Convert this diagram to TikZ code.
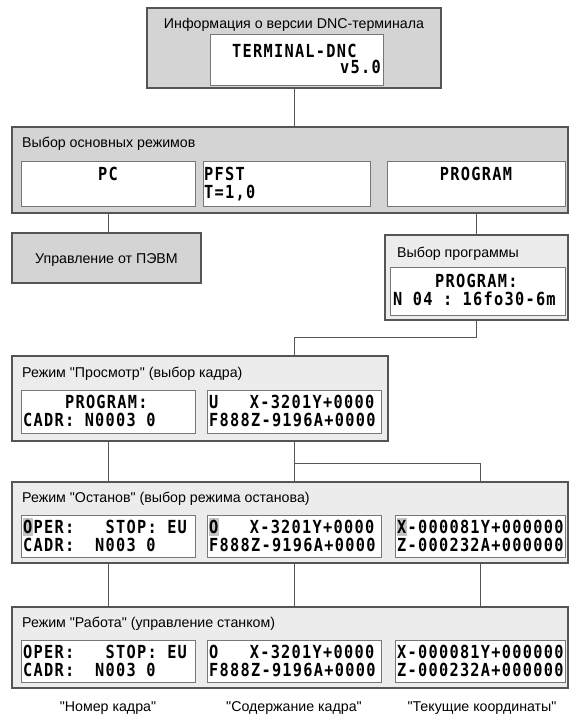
\documentclass[tikz,border=0pt]{standalone}
\usepackage{fontspec}
\setmainfont{Liberation Sans}[Ligatures=TeXOff]
\newfontfamily\lcdfont{DejaVu Sans Mono}[FakeStretch=0.85, LetterSpace=7]
\usetikzlibrary{calc}
\definecolor{darkfill}{HTML}{D4D4D4}
\definecolor{lightfill}{HTML}{ECECEC}
\definecolor{framecol}{HTML}{555555}
\definecolor{lcdframe}{HTML}{777777}
\definecolor{hlgray}{HTML}{C4C4C4}
\tikzset{
  panel/.style={draw=framecol, line width=1.2pt, anchor=north west, inner sep=0pt, outer sep=0pt},
  lcd/.style={draw=lcdframe, fill=white, line width=1pt, anchor=north west, inner sep=0pt, outer sep=0pt},
  title/.style={anchor=base west, inner sep=0pt, font=\fontsize{14.2}{16}\selectfont},
  ctitle/.style={anchor=base, inner sep=0pt, font=\fontsize{14.2}{16}\selectfont},
  lcdtxt/.style={anchor=base west, inner sep=0pt, font=\lcdfont\bfseries\fontsize{18}{20}\selectfont},
  wire/.style={draw=framecol, line width=1pt},
}
\begin{document}
\begin{tikzpicture}[x=1pt,y=-1pt]
\useasboundingbox (0,0) rectangle (569,717);
% ---------- top: version info
\node[panel, fill=darkfill, minimum width=294pt, minimum height=80pt] (top) at (147,8) {};
\node[ctitle] (toptitle) at (294,29) {Информация о версии DNC-терминала};
\node[lcd, minimum width=173pt, minimum height=50pt] (topl) at (210,35) {};
\node[lcdtxt] (t1) at (232,57) {TERMINAL-DNC};
\node[lcdtxt, anchor=base east] (t2) at (381,74) {v5.0};
% ---------- main modes
\node[panel, fill=darkfill, minimum width=556pt, minimum height=86pt] (main) at (12,127) {};
\node[title] (maintitle) at (22,147) {Выбор основных режимов};
\node[lcd, minimum width=174pt, minimum height=45pt] (pcb) at (21,161) {};
\node[lcd, minimum width=167pt, minimum height=45pt] (pfstb) at (203,161) {};
\node[lcd, minimum width=178pt, minimum height=45pt] (progb) at (387,161) {};
\node[lcdtxt, anchor=base] (pc1) at (108,180) {PC};
\node[lcdtxt] (pf1) at (204,180) {PFST};
\node[lcdtxt] (pf2) at (204,198) {T=1,0};
\node[lcdtxt, anchor=base] (pg1) at (476,180) {PROGRAM};
% ---------- PC control
\node[panel, fill=darkfill, minimum width=189pt, minimum height=50pt] (pcctl) at (12,233) {};
\node[ctitle] (pcctltxt) at (106.5,263) {Управление от ПЭВМ};
% ---------- program selection
\node[panel, fill=lightfill, minimum width=183pt, minimum height=85pt] (psel) at (385,235) {};
\node[title] (pseltitle) at (397,257) {Выбор программы};
\node[lcd, minimum width=175pt, minimum height=48pt] (pselb) at (390,267) {};
\node[lcdtxt] (ps1) at (393,287) {~~~~PROGRAM:};
\node[lcdtxt] (ps2) at (393,305) {N~04~:~16fo30-6m};
% ---------- view mode
\node[panel, fill=lightfill, minimum width=376pt, minimum height=85pt] (view) at (12,356) {};
\node[title] (viewtitle) at (22,377) {Режим "Просмотр" (выбор кадра)};
\node[lcd, minimum width=174pt, minimum height=43pt] (viewl) at (21,390) {};
\node[lcd, minimum width=174pt, minimum height=43pt] (viewr) at (207,390) {};
\node[lcdtxt] (v1) at (23,408) {~~~~PROGRAM:};
\node[lcdtxt] (v2) at (23,426) {CADR:~N0003~0};
\node[lcdtxt] (v3) at (209,408) {U~~~X-3201Y+0000};
\node[lcdtxt] (v4) at (209,426) {F888Z-9196A+0000};
% ---------- stop mode
\node[panel, fill=lightfill, minimum width=556pt, minimum height=81pt] (stop) at (12,482) {};
\node[title] (stoptitle) at (22,502) {Режим "Останов" (выбор режима останова)};
\node[lcd, minimum width=174pt, minimum height=42pt] (stopl) at (21,515) {};
\node[lcd, minimum width=174pt, minimum height=42pt] (stopm) at (207,515) {};
\node[lcd, minimum width=170pt, minimum height=42pt] (stopr) at (395,515) {};
\fill[hlgray] (22.5,518) rectangle (33,536);
\fill[hlgray] (208.5,518) rectangle (219,536);
\fill[hlgray] (396.5,518) rectangle (407,536);
\node[lcdtxt] (s1) at (23,533) {OPER:~~~STOP:~EU};
\node[lcdtxt] (s2) at (23,551) {CADR:~~N003~0};
\node[lcdtxt] (s3) at (209,533) {O~~~X-3201Y+0000};
\node[lcdtxt] (s4) at (209,551) {F888Z-9196A+0000};
\node[lcdtxt] (s5) at (397,533) {X-000081Y+000000};
\node[lcdtxt] (s6) at (397,551) {Z-000232A+000000};
% ---------- work mode
\node[panel, fill=lightfill, minimum width=556pt, minimum height=81pt] (work) at (12,607) {};
\node[title] (worktitle) at (22,627) {Режим "Работа" (управление станком)};
\node[lcd, minimum width=174pt, minimum height=42pt] (workl) at (21,640) {};
\node[lcd, minimum width=174pt, minimum height=42pt] (workm) at (207,640) {};
\node[lcd, minimum width=170pt, minimum height=42pt] (workr) at (395,640) {};
\node[lcdtxt] (w1) at (23,658) {OPER:~~~STOP:~EU};
\node[lcdtxt] (w2) at (23,676) {CADR:~~N003~0};
\node[lcdtxt] (w3) at (209,658) {O~~~X-3201Y+0000};
\node[lcdtxt] (w4) at (209,676) {F888Z-9196A+0000};
\node[lcdtxt] (w5) at (397,658) {X-000081Y+000000};
\node[lcdtxt] (w6) at (397,676) {Z-000232A+000000};
% ---------- bottom captions
\node[ctitle] (cap1) at (108,711) {"Номер кадра"};
\node[ctitle] (cap2) at (294,711) {"Содержание кадра"};
\node[ctitle] (cap3) at (482,711) {"Текущие координаты"};
% ---------- connectors
\draw[wire] (top.south) -- (top.south |- main.north);
\draw[wire] (pcb.south |- main.south) -- (pcb.south |- pcctl.north);
\draw[wire] (psel.north |- main.south) -- (psel.north);
\draw[wire] (psel.south) -- ++(0,17) coordinate (j1) -| (viewr.south |- view.north);
\draw[wire] (viewl.south |- view.south) -- (viewl.south |- stop.north);
\draw[wire] (viewr.south |- view.south) -- (viewr.south |- stop.north);
\draw[wire] (viewr.south |- view.south) ++(0,22) coordinate (j2) -| (stopr.north |- stop.north);
\draw[wire] (stopl.south |- stop.south) -- (stopl.south |- work.north);
\draw[wire] (stopm.south |- stop.south) -- (stopm.south |- work.north);
\draw[wire] (stopr.south |- stop.south) -- (stopr.south |- work.north);
\end{tikzpicture}
\end{document}
